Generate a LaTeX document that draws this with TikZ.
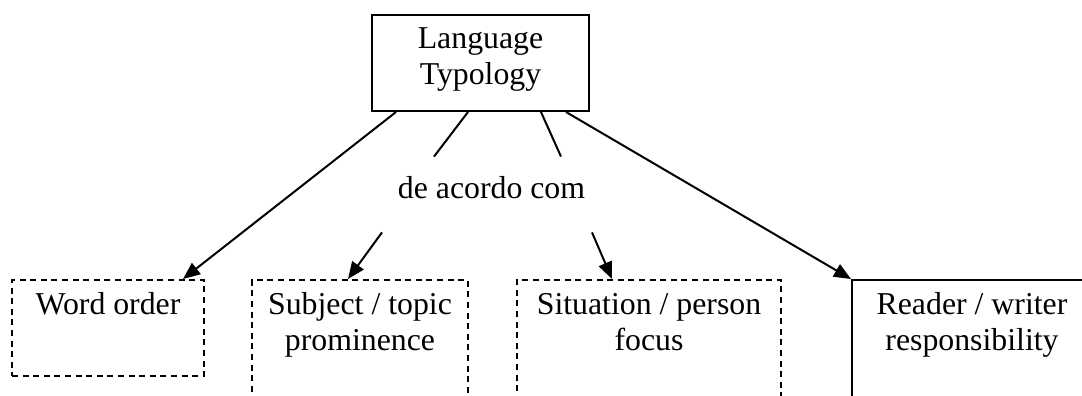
\documentclass[tikz,border=0pt]{standalone}
\usepackage{fontspec}
\setmainfont{Liberation Serif}
\usetikzlibrary{arrows.meta}

\tikzset{
  topbox/.style={draw, line width=1pt, align=center, minimum width=108.5pt, minimum height=48pt,
    inner sep=0pt, text height=29pt, text depth=8pt},
  catbox/.style={draw, line width=1pt, dash pattern=on 3pt off 2.3pt, anchor=north, align=center,
    inner xsep=0pt, inner ysep=6pt, text height=29pt, text depth=24pt},
  plainbox/.style={catbox, solid},
  link/.style={line width=1pt}
}

\begin{document}
\begin{tikzpicture}[x=0.5pt, y=-0.5pt, font=\fontsize{15.9pt}{18pt}\selectfont, >={Triangle[length=8.5pt, width=7pt]}]
\useasboundingbox (0,0) rectangle (1082,396);

%Nodes
\node[topbox] (typology) at (480.5,63) {Language\\Typology};

\node[inner sep=0pt, text height=20.5pt, text depth=17pt] (acordo) at (491.5,194.5) {de acordo com};

\node[catbox, minimum width=96pt, text height=11pt, text depth=25pt] (wordorder) at (108,279) {Word order};
\node[catbox, minimum width=108pt] (subject) at (360,279) {Subject / topic\\prominence};
\node[catbox, minimum width=132pt] (situation) at (649,279) {Situation / person\\focus};
\node[plainbox, minimum width=120pt] (reader) at (972,279) {Reader / writer\\responsibility};

%Lines
\draw[link, ->] ([xshift=12.5pt]typology.south west) -- ([xshift=-11pt]wordorder.north east);
\draw[link, ->] ([xshift=-12pt]typology.south east) -- (reader.north west);

\draw[link] ([xshift=-6.25pt]typology.south) -- ([xshift=-28.75pt]acordo.north);
\draw[link] ([xshift=30.25pt]typology.south) -- ([xshift=34.75pt]acordo.north);

\draw[link, ->] ([xshift=-54.75pt]acordo.south) -- ([xshift=-6pt]subject.north);
\draw[link, ->] ([xshift=50.25pt]acordo.south) -- ([xshift=-18.5pt]situation.north);
\end{tikzpicture}
\end{document}
